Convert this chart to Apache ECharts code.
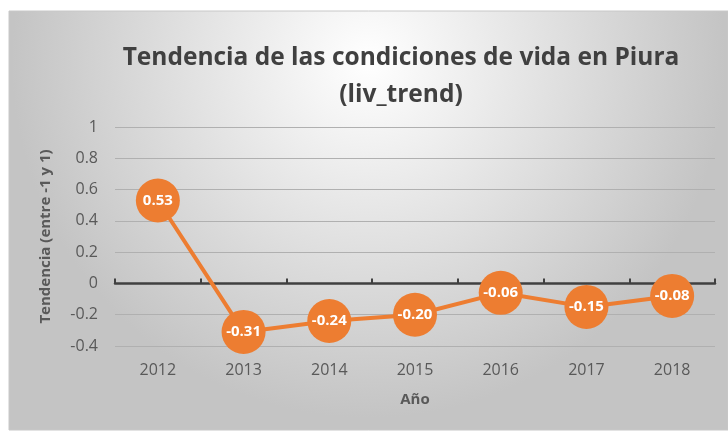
<!DOCTYPE html>
<html>
<head>
<meta charset="utf-8">
<script src="https://cdn.jsdelivr.net/npm/echarts@6/dist/echarts.min.js"></script>
<style>
  html, body { margin: 0; padding: 0; background: #ffffff; }
  #chart { width: 728px; height: 432px; }
</style>
</head>
<body>
<div id="chart"></div>
<script>
const years = ["2012", "2013", "2014", "2015", "2016", "2017", "2018"];
const livTrend = [0.53, -0.31, -0.24, -0.20, -0.06, -0.15, -0.08];

const chart = echarts.init(document.getElementById("chart"));

const font = "'Open Sans', 'Noto Sans', sans-serif";

const option = {
  animation: false,
  backgroundColor: "#ffffff",
  graphic: [
    {
      type: "rect",
      shape: { x: 9, y: 11, width: 719, height: 419 },
      z: -10,
      style: {
        fill: new echarts.graphic.RadialGradient(0.5, 0.12, 0.85, [
          { offset: 0, color: "#ffffff" },
          { offset: 1, color: "#c4c4c4" },
        ]),
        stroke: "#c8c8c8",
        lineWidth: 1,
      },
    },
  ],
  title: {
    text: "Tendencia de las condiciones de vida en Piura\n(liv_trend)",
    left: 396,
    top: 35,
    textAlign: "center",
    textStyle: {
      fontFamily: font,
      fontSize: 24.5,
      fontWeight: "bold",
      color: "#404040",
      lineHeight: 37,
    },
  },
  grid: { left: 115, right: 13, top: 127, bottom: 86 },
  xAxis: [
    {
      type: "category",
      data: years,
      axisLine: { onZero: true, lineStyle: { color: "#404040", width: 2.5 } },
      axisTick: { show: true, inside: true, length: 5, lineStyle: { color: "#404040", width: 2 } },
      axisLabel: { show: false },
    },
    {
      type: "category",
      data: years,
      position: "bottom",
      axisLine: { show: false },
      axisTick: { show: false },
      axisLabel: { fontFamily: font, fontSize: 16, color: "#595959", margin: 16 },
      name: "Año",
      nameLocation: "middle",
      nameGap: 46,
      nameTextStyle: { fontFamily: font, fontSize: 15, fontWeight: "bold", color: "#595959" },
    },
  ],
  yAxis: {
    type: "value",
    min: -0.4,
    max: 1,
    interval: 0.2,
    axisLine: { show: false },
    axisTick: { show: false },
    axisLabel: {
      fontFamily: font,
      fontSize: 16,
      color: "#595959",
      margin: 17,
      formatter: (v) => String(Math.round(v * 10) / 10),
    },
    splitLine: { lineStyle: { color: "#b0b0b0", width: 1 } },
    name: "Tendencia (entre -1 y 1)",
    nameLocation: "middle",
    nameGap: 62,
    nameTextStyle: { fontFamily: font, fontSize: 15, fontWeight: "bold", color: "#595959" },
  },
  series: [
    {
      type: "line",
      data: livTrend,
      xAxisIndex: 0,
      symbol: "circle",
      symbolSize: 44,
      lineStyle: { color: "#ed7d31", width: 4 },
      itemStyle: { color: "#ed7d31" },
      label: {
        show: true,
        position: "inside",
        formatter: (p) => p.value.toFixed(2),
        fontFamily: font,
        fontSize: 15,
        fontWeight: "bold",
        color: "#ffffff",
      },
    },
  ],
};

chart.setOption(option);
</script>
</body>
</html>
